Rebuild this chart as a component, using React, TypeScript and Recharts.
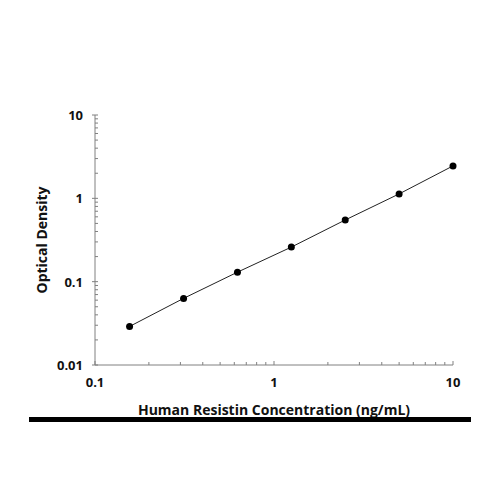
import React from 'react';
import { LineChart, Line, XAxis, YAxis } from 'recharts';

// Standard curve
const concentrations = [0.156, 0.3125, 0.625, 1.25, 2.5, 5, 10];
const opticalDensity = [0.029, 0.063, 0.13, 0.26, 0.55, 1.13, 2.45];

const xMajor = [0.1, 1, 10];
const yMajor = [0.01, 0.1, 1, 10];

const minorTicks = (from: number, to: number) => {
  const out: number[] = [];
  for (let d = from; d < to; d *= 10) {
    for (let m = 1; m <= 9; m++) out.push(Number((d * m).toPrecision(3)));
  }
  out.push(to);
  return out;
};

const xTicks = minorTicks(0.1, 10);
const yTicks = minorTicks(0.01, 10);

const data = concentrations.map((c, i) => ({ conc: c, od: opticalDensity[i] }));

const AXIS = '#808080';
const FONT = '"Open Sans", "DejaVu Sans", sans-serif';

const isMajor = (v: number, majors: number[]) => majors.some((m) => Math.abs(m - v) < 1e-9);

const XTick = (props: any) => {
  const { x, y, payload } = props;
  const major = isMajor(payload.value, xMajor);
  return (
    <g>
      <line x1={x} x2={x} y1={y} y2={y - (major ? 4 : 3)} stroke={AXIS} strokeWidth={1} />
      {major && (
        <text x={x} y={y + 22} textAnchor="middle" fontFamily={FONT} fontWeight={700} fontSize={13} fill="#111">
          {String(payload.value)}
        </text>
      )}
    </g>
  );
};

const YTick = (props: any) => {
  const { x, y, payload } = props;
  const major = isMajor(payload.value, yMajor);
  return (
    <g>
      <line x1={major ? x - 3 : x} x2={x + 3} y1={y} y2={y} stroke={AXIS} strokeWidth={1} />
      {major && (
        <text x={x - 12} y={y + 5} textAnchor="end" fontFamily={FONT} fontWeight={700} fontSize={13} fill="#111">
          {String(payload.value)}
        </text>
      )}
    </g>
  );
};

export default function App() {
  return (
    <div style={{ position: 'absolute', left: 0, top: 0, width: 500, height: 500, background: '#fff' }}>
      <LineChart
        width={500}
        height={500}
        data={data}
        margin={{ top: 115, right: 47, bottom: 105, left: 55 }}
      >
        <XAxis
          dataKey="conc"
          type="number"
          scale="log"
          domain={[0.1, 10]}
          ticks={xTicks}
          interval={0}
          tickSize={0}
          tickMargin={0}
          tickLine={false}
          tick={<XTick />}
          stroke={AXIS}
          height={30}
        />
        <YAxis
          dataKey="od"
          type="number"
          scale="log"
          domain={[0.01, 10]}
          ticks={yTicks}
          interval={0}
          tickSize={0}
          tickMargin={0}
          tickLine={false}
          tick={<YTick />}
          stroke={AXIS}
          width={40}
        />
        <Line
          type="linear"
          dataKey="od"
          stroke="#222"
          strokeWidth={1}
          dot={{ r: 3.5, fill: '#000', stroke: '#000', strokeWidth: 0 }}
          isAnimationActive={false}
        />
        <text
          x={274}
          y={415}
          textAnchor="middle"
          fontFamily={FONT}
          fontWeight={700}
          fontSize={14}
          fill="#111"
        >
          Human Resistin Concentration (ng/mL)
        </text>
        <text
          x={47}
          y={240}
          transform="rotate(-90 47 240)"
          textAnchor="middle"
          fontFamily={FONT}
          fontWeight={700}
          fontSize={14}
          fill="#111"
        >
          Optical Density
        </text>
      </LineChart>
      <div style={{ position: 'absolute', left: 29, top: 417, width: 442, height: 5, background: '#000' }} />
    </div>
  );
}
